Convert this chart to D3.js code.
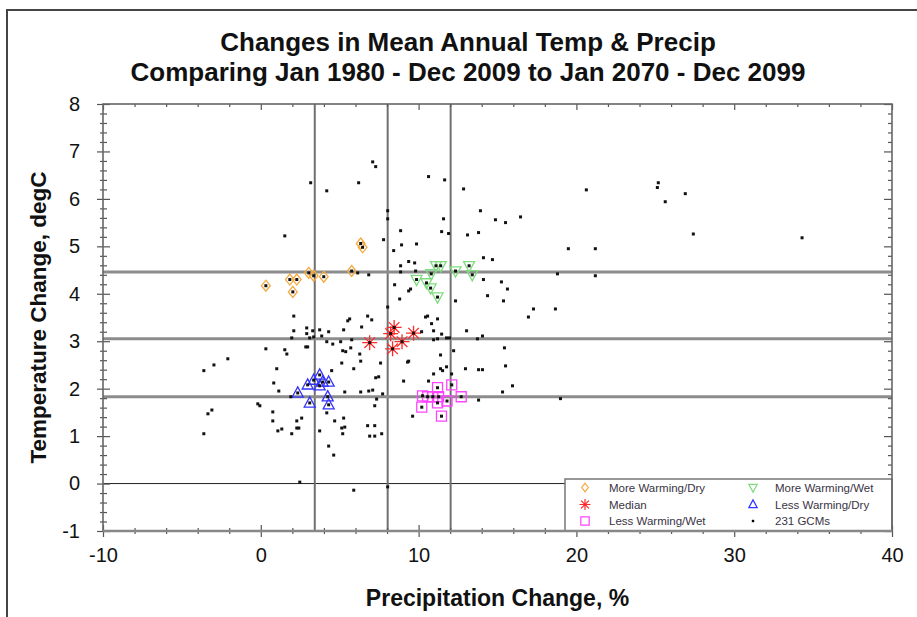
<!DOCTYPE html>
<html>
<head>
<meta charset="utf-8">
<script src="https://cdn.jsdelivr.net/npm/d3@7"></script>
<style>
  html, body { margin: 0; padding: 0; background: #fff; }
  svg { display: block; font-family: "Liberation Sans", Arial, sans-serif; }
</style>
</head>
<body>
<svg id="chart" width="917" height="617"></svg>
<script>
// ---- Data: changes between 1980-2009 and 2070-2099 (precip %, temp degC) ----
const titleLines = ["Changes in Mean Annual Temp & Precip",
                    "Comparing Jan 1980 - Dec 2009 to Jan 2070 - Dec 2099"];
const xTitle = "Precipitation Change, %";
const yTitle = "Temperature Change, degC";

const xDomain = [-10, 40];
const yDomain = [-1, 8];
const xMajorTicks = [-10, 0, 10, 20, 30, 40];
const yMajorTicks = [-1, 0, 1, 2, 3, 4, 5, 6, 7, 8];

// 10th / 50th / 90th percentile reference lines
const precipPercentiles = [3.42, 8.04, 12.03];
const tempPercentiles = [1.83, 3.05, 4.46];

// Highlighted model groups [precip, temp]
const moreWarmingDry = [[0.32,4.17],[1.84,4.30],[2.28,4.30],[2.03,4.04],[3.04,4.44],[3.35,4.38],[3.99,4.36],[5.76,4.48],[6.33,5.06],[6.45,4.98]];
const moreWarmingWet = [[11.10,4.59],[11.40,4.59],[10.80,4.42],[9.87,4.30],[10.50,4.23],[10.76,4.12],[11.20,3.93],[12.34,4.48],[13.20,4.59],[13.40,4.40]];
const medianModels = [[6.90,2.97],[8.45,3.29],[8.23,3.16],[8.35,2.84],[8.95,2.99],[9.68,3.17]];
const lessWarmingDry = [[3.73,2.29],[3.35,2.18],[3.92,2.14],[4.30,2.14],[2.97,2.08],[3.73,2.06],[2.34,1.91],[4.24,1.83],[3.10,1.70],[4.30,1.66]];
const lessWarmingWet = [[10.25,1.85],[10.57,1.83],[10.90,1.83],[11.27,1.83],[11.20,2.02],[12.10,2.08],[11.20,1.70],[11.80,1.74],[12.70,1.83],[10.20,1.61],[11.45,1.42]];

// Remaining GCM projections [precip, temp]
const otherGcms = [
  [3.16,6.34],[4.18,6.17],[6.20,6.34],[7.09,6.78],[7.28,6.68],[8.04,5.75],[8.04,5.58],[1.52,5.22],[7.78,5.14],
  [6.14,4.44],[6.84,4.40],
  [13.92,5.75],[11.58,5.58],[11.46,5.31],[11.90,5.27],[13.10,5.24],[13.80,5.29],[14.11,4.76],
  [8.86,5.33],[8.92,5.03],[8.42,4.91],[9.87,5.05],[9.37,4.68],[9.75,4.65],[8.86,4.59],[9.81,4.48],[8.86,4.46],
  [8.48,4.19],[9.37,4.06],[9.49,4.10],[8.80,3.89],[12.34,3.85],[8.04,3.72],[14.11,4.30],[14.37,3.96],
  [2.09,3.53],[5.63,3.47],[5.51,3.43],[6.77,3.53],[7.03,3.45],[6.39,3.30],[5.25,3.24],
  [2.91,3.28],[3.29,3.22],[3.73,3.24],[4.30,3.20],[2.09,3.22],[1.96,3.07],
  [2.91,3.16],[3.10,3.07],[2.85,2.88],[2.97,2.88],[3.35,3.09],[3.86,3.11],[4.18,2.99],[4.56,2.94],[5.06,2.99],[5.76,3.03],
  [10.44,3.51],[10.57,3.53],[10.82,3.37],[11.20,3.47],[10.95,3.22],[11.20,3.05],[10.95,3.03],[11.77,3.07],[11.96,3.07],
  [11.46,3.15],[10.19,3.20],[13.04,3.22],[14.05,3.11],[13.73,3.05],
  [10.63,6.47],[11.65,6.40],[12.85,6.21],[20.63,6.19],[25.19,6.34],[25.13,6.24],[25.63,5.94],
  [14.87,5.56],[15.51,5.50],[16.46,5.62],[19.49,4.95],[21.20,4.95],[14.68,4.72],
  [15.25,4.25],[15.63,4.10],[15.38,3.85],[18.80,4.42],[21.20,4.38],[17.28,3.68],[18.67,3.68],[16.96,3.51],
  [26.90,6.11],[27.41,5.26],[34.30,5.18],
  [12.22,2.80],[11.39,2.71],[15.44,2.86],[9.37,2.58],[9.30,2.56],[11.39,2.42],[11.52,2.38],[11.77,2.46],
  [12.97,2.42],[13.80,2.40],[14.05,2.40],[15.51,2.48],[9.05,2.16],[10.95,2.31],[10.63,2.16],[12.09,2.31],
  [15.95,2.06],[15.32,1.93],[18.99,1.79],[13.80,1.76],[7.72,1.89],[7.66,1.05],[9.62,1.42],[8.04,-0.07],
  [5.19,2.80],[5.38,2.78],[5.70,2.86],[6.27,2.73],[6.33,2.58],[1.52,2.82],[1.65,2.73],[0.32,2.84],
  [-2.09,2.63],[-2.97,2.50],[-3.61,2.38],[1.01,2.42],[0.82,2.12],[1.14,1.95],[4.49,2.38],[5.13,2.54],
  [5.89,2.42],[7.59,2.54],[7.28,2.23],[7.47,2.25],[5.32,1.93],[6.33,1.93],[6.84,1.95],[7.09,1.97],
  [7.34,1.78],[7.22,1.64],[6.77,1.22],[7.22,1.22],[6.90,1.00],[7.22,1.00],[1.90,1.83],[-0.19,1.68],
  [-0.06,1.64],[0.76,1.51],[0.76,1.32],[2.28,1.32],[2.59,1.38],[1.08,1.11],[1.33,1.15],[2.28,1.17],
  [2.41,1.17],[1.96,1.05],[4.18,1.49],[4.68,1.32],[5.25,1.38],[5.13,1.17],[5.32,1.19],[5.19,1.05],
  [3.73,1.11],[4.30,0.79],[4.62,0.60],[-3.10,1.55],[-3.35,1.47],[-3.61,1.05],[2.47,0.03],[5.89,-0.14]
];

const legendItems = [
  { label: "More Warming/Dry", kind: "diamond",  color: "#f5a93c" },
  { label: "More Warming/Wet", kind: "triDown",  color: "#7edc7e" },
  { label: "Median",           kind: "star",     color: "#ff2b2b" },
  { label: "Less Warming/Dry", kind: "triUp",    color: "#3333ff" },
  { label: "Less Warming/Wet", kind: "square",   color: "#ff44ff" },
  { label: "231 GCMs",         kind: "dot",      color: "#000000" }
];

// ---- Layout ----
const svg = d3.select("#chart");
const plot = { left: 103, right: 892, top: 104, bottom: 531 };
const x = d3.scaleLinear().domain(xDomain).range([plot.left, plot.right]);
const y = d3.scaleLinear().domain(yDomain).range([plot.bottom, plot.top]);
const plainNumber = d => String(d);   // hyphen-minus, as printed on the axes

const xMinorTicks = d3.range(xDomain[0], xDomain[1] + 0.001, 2).filter(v => !xMajorTicks.includes(v));
const yMinorTicks = d3.range(0, 46).map(i => +(yDomain[0] + i * 0.2).toFixed(1))
  .filter(v => v <= yDomain[1] && !yMajorTicks.includes(v));

// outer frame (top and left edges)
svg.append("path").attr("d", "M7,617V10H917").attr("fill", "none")
  .attr("stroke", "#444").attr("stroke-width", 2);

// titles
svg.append("g").selectAll("text").data(titleLines).join("text")
  .attr("x", 468).attr("y", (d, i) => 51 + i * 30)
  .attr("text-anchor", "middle").attr("font-weight", "bold").attr("font-size", 26)
  .attr("fill", "#111").text(d => d);

svg.append("text").attr("x", (plot.left + plot.right) / 2).attr("y", 606)
  .attr("text-anchor", "middle").attr("font-weight", "bold").attr("font-size", 23)
  .attr("fill", "#111").text(xTitle);

svg.append("text").attr("transform", `translate(46,${(plot.top + plot.bottom) / 2}) rotate(-90)`)
  .attr("text-anchor", "middle").attr("font-weight", "bold").attr("font-size", 22.5)
  .attr("fill", "#111").text(yTitle);

// reference lines
const gLines = svg.append("g");
gLines.append("line").attr("x1", plot.left).attr("x2", plot.right)
  .attr("y1", y(0)).attr("y2", y(0)).attr("stroke", "#222").attr("stroke-width", 1);
gLines.selectAll(".vp").data(precipPercentiles).join("line").attr("class", "vp")
  .attr("x1", d => x(d)).attr("x2", d => x(d)).attr("y1", plot.top).attr("y2", plot.bottom)
  .attr("stroke", "#707070").attr("stroke-width", 2);
gLines.selectAll(".hp").data(tempPercentiles).join("line").attr("class", "hp")
  .attr("x1", plot.left).attr("x2", plot.right).attr("y1", d => y(d)).attr("y2", d => y(d))
  .attr("stroke", "#8c8c8c").attr("stroke-width", 3);

// symbol path builders
function symbolPath(kind, s) {
  const p = d3.path();
  if (kind === "diamond") {
    p.moveTo(0, -s); p.lineTo(s * 0.8, 0); p.lineTo(0, s); p.lineTo(-s * 0.8, 0); p.closePath();
  } else if (kind === "square") {
    p.rect(-s, -s, 2 * s, 2 * s);
  } else if (kind === "triUp") {
    p.moveTo(0, -s * 1.1); p.lineTo(s, s * 0.75); p.lineTo(-s, s * 0.75); p.closePath();
  } else if (kind === "triDown") {
    p.moveTo(0, s * 1.1); p.lineTo(s, -s * 0.75); p.lineTo(-s, -s * 0.75); p.closePath();
  } else if (kind === "star") {
    for (let k = 0; k < 4; k++) {
      const a = k * Math.PI / 4;
      p.moveTo(-s * Math.cos(a), -s * Math.sin(a));
      p.lineTo(s * Math.cos(a), s * Math.sin(a));
    }
  }
  return p.toString();
}

const groups = [
  { data: moreWarmingDry, kind: "diamond", color: "#f5a93c", size: 5.5 },
  { data: moreWarmingWet, kind: "triDown", color: "#7edc7e", size: 5.5 },
  { data: medianModels,   kind: "star",    color: "#ff2b2b", size: 7.5 },
  { data: lessWarmingDry, kind: "triUp",   color: "#3333ff", size: 5.5 },
  { data: lessWarmingWet, kind: "square",  color: "#ff44ff", size: 5 }
];

const gSym = svg.append("g");
groups.forEach(gr => {
  gSym.append("g").selectAll("path").data(gr.data).join("path")
    .attr("transform", d => `translate(${x(d[0])},${y(d[1])})`)
    .attr("d", symbolPath(gr.kind, gr.size))
    .attr("fill", "none").attr("stroke", gr.color).attr("stroke-width", 1.3);
});

// all GCM points as small black dots
const allGcms = otherGcms.concat(moreWarmingDry, moreWarmingWet, medianModels, lessWarmingDry, lessWarmingWet);
svg.append("g").selectAll("rect").data(allGcms).join("rect")
  .attr("x", d => x(d[0]) - 1.5).attr("y", d => y(d[1]) - 1.5)
  .attr("width", 3).attr("height", 3).attr("fill", "#111");

// axes
function styleAxis(g, fontSize) {
  g.select(".domain").remove();
  g.selectAll("line").attr("stroke", "#555").attr("stroke-width", 1.2);
  g.selectAll("text").attr("font-size", fontSize).attr("fill", "#111")
    .attr("font-family", "'Liberation Sans', Arial, sans-serif");
}

const gxB = svg.append("g").attr("transform", `translate(0,${plot.bottom})`)
  .call(d3.axisBottom(x).tickValues(xMajorTicks).tickSize(6).tickPadding(11).tickFormat(plainNumber));
styleAxis(gxB, 20);
gxB.selectAll(".tick line").attr("y1", -6);
const gxBm = svg.append("g").attr("transform", `translate(0,${plot.bottom})`)
  .call(d3.axisBottom(x).tickValues(xMinorTicks).tickSize(3).tickFormat(""));
styleAxis(gxBm, 0);
gxBm.selectAll(".tick line").attr("y1", -3);

const gxT = svg.append("g").attr("transform", `translate(0,${plot.top})`)
  .call(d3.axisTop(x).tickValues(xMajorTicks).tickSize(-6).tickFormat(""));
styleAxis(gxT, 0);
const gxTm = svg.append("g").attr("transform", `translate(0,${plot.top})`)
  .call(d3.axisTop(x).tickValues(xMinorTicks).tickSize(-3).tickFormat(""));
styleAxis(gxTm, 0);

const gyL = svg.append("g").attr("transform", `translate(${plot.left},0)`)
  .call(d3.axisLeft(y).tickValues(yMajorTicks).tickSize(6).tickPadding(17).tickFormat(plainNumber));
styleAxis(gyL, 20);
gyL.selectAll(".tick line").attr("x1", 7);
const gyLm = svg.append("g").attr("transform", `translate(${plot.left},0)`)
  .call(d3.axisLeft(y).tickValues(yMinorTicks).tickSize(3).tickFormat(""));
styleAxis(gyLm, 0);
gyLm.selectAll(".tick line").attr("x1", 4);

const gyR = svg.append("g").attr("transform", `translate(${plot.right},0)`)
  .call(d3.axisRight(y).tickValues(yMajorTicks).tickSize(-8).tickFormat(""));
styleAxis(gyR, 0);
const gyRm = svg.append("g").attr("transform", `translate(${plot.right},0)`)
  .call(d3.axisRight(y).tickValues(yMinorTicks).tickSize(-4).tickFormat(""));
styleAxis(gyRm, 0);

// legend
const lg = svg.append("g");
const legBox = { x0: 565, y0: 479, x1: plot.right, y1: plot.bottom };
lg.append("rect").attr("x", legBox.x0).attr("y", legBox.y0)
  .attr("width", legBox.x1 - legBox.x0).attr("height", legBox.y1 - legBox.y0)
  .attr("fill", "#fff").attr("stroke", "#777").attr("stroke-width", 1.5);
const colSym = [585, 753], colText = [609, 775], rowY = [487.5, 504.5, 521];
legendItems.forEach((it, i) => {
  const c = i % 2, r = Math.floor(i / 2);
  const g = lg.append("g").attr("transform", `translate(${colSym[c]},${rowY[r]})`);
  if (it.kind === "dot") {
    g.append("rect").attr("x", -1.2).attr("y", -1.2).attr("width", 2.4).attr("height", 2.4).attr("fill", it.color);
  } else {
    g.append("path").attr("d", symbolPath(it.kind, it.kind === "star" ? 5.5 : 4.2))
      .attr("fill", "none").attr("stroke", it.color).attr("stroke-width", 1.2);
  }
  lg.append("text").attr("x", colText[c]).attr("y", rowY[r]).attr("dy", "0.35em")
    .attr("font-size", 11.5).attr("fill", "#3a3444").text(it.label);
});

// plot frame
svg.append("rect").attr("x", plot.left).attr("y", plot.top)
  .attr("width", plot.right - plot.left).attr("height", plot.bottom - plot.top)
  .attr("fill", "none").attr("stroke", "#666").attr("stroke-width", 1.6);
svg.append("line").attr("x1", plot.left).attr("x2", plot.right)
  .attr("y1", plot.bottom).attr("y2", plot.bottom).attr("stroke", "#888").attr("stroke-width", 2.5);
</script>
</body>
</html>
